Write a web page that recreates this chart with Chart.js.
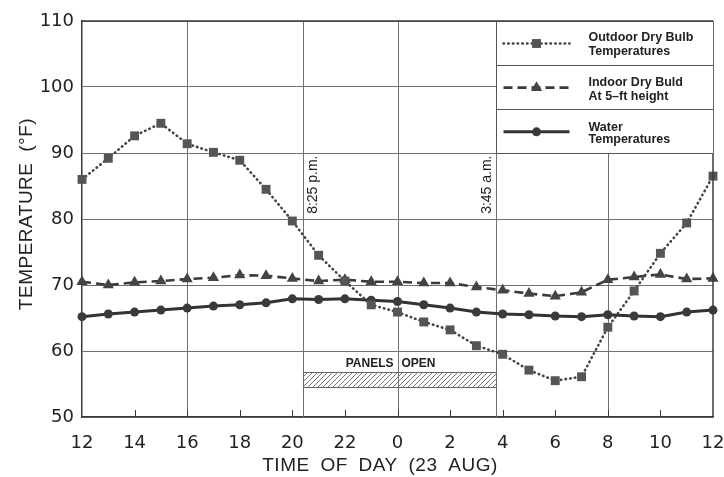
<!DOCTYPE html>
<html>
<head>
<meta charset="utf-8">
<script src="https://cdn.jsdelivr.net/npm/chart.js@4.4.1/dist/chart.umd.min.js"></script>
<style>
  html, body { margin: 0; padding: 0; background: #fff; }
</style>
</head>
<body>
<canvas id="tempChart" width="724" height="477"></canvas>
<script>
// --- data: hours after noon on 23 Aug, one reading per hour ---
const hourOffsets = [0, 1, 2, 3, 4, 5, 6, 7, 8, 9, 10, 11, 12, 13, 14, 15, 16, 17, 18, 19, 20, 21, 22, 23, 24];
const tickLabels = ['12', '14', '16', '18', '20', '22', '0', '2', '4', '6', '8', '10', '12'];
const seriesNames = [
  ['Outdoor Dry Bulb', 'Temperatures'],
  ['Indoor Dry Buld', 'At 5\u2013ft height'],
  ['Water', 'Temperatures']
];
const outdoorTemps = [86, 89.2, 92.6, 94.5, 91.4, 90.1, 88.9, 84.5, 79.7, 74.5, 70.6, 67, 65.9, 64.4, 63.2, 60.8, 59.5, 57.1, 55.5, 56.1, 63.6, 69.1, 74.8, 79.4, 86.5];
const indoorTemps = [70.5, 70, 70.4, 70.6, 70.9, 71.1, 71.5, 71.4, 71, 70.6, 70.8, 70.5, 70.5, 70.3, 70.3, 69.7, 69.2, 68.7, 68.3, 68.9, 70.8, 71.2, 71.6, 70.9, 71];
const waterTemps = [65.2, 65.6, 65.9, 66.2, 66.5, 66.8, 67, 67.3, 67.9, 67.8, 67.9, 67.7, 67.5, 67, 66.5, 65.9, 65.6, 65.5, 65.3, 65.2, 65.5, 65.3, 65.2, 65.9, 66.2];
// vertical rules: 16:00, 8:25 p.m., midnight, 3:45 a.m., 8:00
const gridHours = [4, 8.417, 12, 15.75, 20];
const ruleNotes = [[8.417, '8:25 p.m.'], [15.75, '3:45 a.m.']];
const panelsOpen = [8.417, 15.75];
const panelBand = [54.5, 56.8];
// legend panel spans from the 3:45 rule to the right edge, 90 to 110 F
const legendHours = [15.75, 24];
const legendTemps = [90, 110];

const ink = '#3a3a3a';
const gridInk = '#707070';

function pts(vals) {
  return vals.map((v, i) => ({ x: hourOffsets[i], y: v }));
}

function hatchPattern(ctx) {
  const c = document.createElement('canvas');
  c.width = 5; c.height = 5;
  const g = c.getContext('2d');
  g.strokeStyle = '#777';
  g.lineWidth = 1;
  g.beginPath();
  g.moveTo(0, 5); g.lineTo(5, 0);
  g.moveTo(-1, 1); g.lineTo(1, -1);
  g.moveTo(4, 6); g.lineTo(6, 4);
  g.stroke();
  return ctx.createPattern(c, 'repeat');
}

function marker(ctx, style, r, px, py) {
  ctx.beginPath();
  if (style === 'rect') {
    const s = r * Math.SQRT1_2;
    ctx.rect(px - s, py - s, 2 * s, 2 * s);
  } else if (style === 'triangle') {
    ctx.moveTo(px, py - r);
    ctx.lineTo(px + r * 0.866, py + r * 0.5);
    ctx.lineTo(px - r * 0.866, py + r * 0.5);
    ctx.closePath();
  } else {
    ctx.arc(px, py, r, 0, Math.PI * 2);
  }
  ctx.fill();
}

const overlay = {
  id: 'overlay',
  beforeDatasetsDraw(chart) {
    const { ctx, chartArea: a, scales: { x, y } } = chart;
    ctx.save();
    ctx.strokeStyle = gridInk;
    ctx.lineWidth = 1;
    gridHours.forEach(h => {
      const px = Math.round(x.getPixelForValue(h)) + 0.5;
      ctx.beginPath(); ctx.moveTo(px, a.top); ctx.lineTo(px, a.bottom); ctx.stroke();
    });
    // small inward ticks on the time axis
    ctx.strokeStyle = ink;
    for (let h = 2; h < 24; h += 2) {
      const px = Math.round(x.getPixelForValue(h)) + 0.5;
      ctx.beginPath(); ctx.moveTo(px, a.bottom); ctx.lineTo(px, a.bottom - 7); ctx.stroke();
    }
    // panels open band
    const bx0 = x.getPixelForValue(panelsOpen[0]), bx1 = x.getPixelForValue(panelsOpen[1]);
    const by0 = y.getPixelForValue(panelBand[1]), by1 = y.getPixelForValue(panelBand[0]);
    ctx.fillStyle = hatchPattern(ctx);
    ctx.fillRect(bx0, by0, bx1 - bx0, by1 - by0);
    ctx.strokeStyle = '#666';
    ctx.strokeRect(Math.round(bx0) + 0.5, Math.round(by0) + 0.5, Math.round(bx1 - bx0), Math.round(by1 - by0));
    ctx.fillStyle = '#222';
    ctx.font = 'bold 12px "Liberation Sans"';
    ctx.textBaseline = 'alphabetic';
    const mid = x.getPixelForValue(12);
    ctx.textAlign = 'right';
    ctx.fillText('PANELS', mid - 4, by0 - 5);
    ctx.textAlign = 'left';
    ctx.fillText('OPEN', mid + 4, by0 - 5);
    // rule notes
    ctx.font = '14px "Liberation Sans"';
    ctx.textAlign = 'center';
    ctx.textBaseline = 'middle';
    ruleNotes.forEach(([h, txt], i) => {
      const px = x.getPixelForValue(h) + (i === 0 ? 10 : -9);
      const py = y.getPixelForValue(85.2);
      ctx.save();
      ctx.translate(px, py);
      ctx.rotate(-Math.PI / 2);
      ctx.fillText(txt, 0, 0);
      ctx.restore();
    });
    ctx.restore();
  },
  afterDraw(chart) {
    const { ctx, chartArea: a, scales: { x, y } } = chart;
    ctx.save();
    // right frame
    ctx.strokeStyle = ink;
    ctx.lineWidth = 1.5;
    ctx.beginPath(); ctx.moveTo(a.right, a.top); ctx.lineTo(a.right, a.bottom); ctx.stroke();
    ctx.beginPath(); ctx.moveTo(a.left, a.top); ctx.lineTo(a.right, a.top); ctx.stroke();

    // legend panel
    const lx0 = Math.round(x.getPixelForValue(legendHours[0])) + 0.5;
    const lx1 = x.getPixelForValue(legendHours[1]);
    const ly0 = y.getPixelForValue(legendTemps[1]);
    const ly1 = Math.round(y.getPixelForValue(legendTemps[0])) + 0.5;
    ctx.fillStyle = '#fff';
    ctx.fillRect(lx0, ly0 + 1, lx1 - lx0, ly1 - ly0 - 1);
    ctx.strokeStyle = '#555';
    ctx.lineWidth = 1;
    const rowH = (ly1 - ly0) / 3;
    ctx.beginPath();
    ctx.moveTo(lx0, ly0); ctx.lineTo(lx0, ly1); ctx.lineTo(lx1, ly1);
    for (let r = 1; r < 3; r++) {
      const ry = Math.round(ly0 + r * rowH) + 0.5;
      ctx.moveTo(lx0, ry); ctx.lineTo(lx1, ry);
    }
    ctx.stroke();
    chart.data.datasets.forEach((ds, i) => {
      const top = ly0 + i * rowH;
      const sy = top + 22.5;
      ctx.strokeStyle = ds.borderColor;
      ctx.lineWidth = ds.borderWidth;
      ctx.lineCap = ds.borderCapStyle || 'butt';
      ctx.setLineDash(ds.borderDash || []);
      ctx.beginPath(); ctx.moveTo(lx0 + 7, sy); ctx.lineTo(lx0 + 73, sy); ctx.stroke();
      ctx.setLineDash([]);
      ctx.fillStyle = ds.pointBackgroundColor;
      marker(ctx, ds.pointStyle, ds.pointRadius, lx0 + 40, sy);
      ctx.fillStyle = '#222';
      ctx.font = 'bold 12.5px "Liberation Sans"';
      ctx.textAlign = 'left';
      ctx.textBaseline = 'middle';
      const names = seriesNames[i];
      ctx.fillText(names[0], lx0 + 92, top + (i === 2 ? 18 : 17));
      ctx.fillText(names[1], lx0 + 92, top + (i === 2 ? 30.5 : 31));
    });

    // axis titles
    ctx.fillStyle = '#222';
    ctx.font = '19px "Liberation Sans"';
    ctx.textAlign = 'center';
    ctx.textBaseline = 'middle';
    ctx.letterSpacing = '0.5px';
    ctx.wordSpacing = '5px';
    ctx.fillText('TIME OF DAY (23 AUG)', 380, 466);
    ctx.save();
    ctx.translate(27, 214);
    ctx.rotate(-Math.PI / 2);
    ctx.fillText('TEMPERATURE (\u00B0F)', 0, 0);
    ctx.restore();
    ctx.restore();
  }
};

const ctx = document.getElementById('tempChart').getContext('2d');
new Chart(ctx, {
  type: 'line',
  data: {
    datasets: [{
      label: 'Outdoor Dry Bulb Temperatures',
      data: pts(outdoorTemps),
      borderColor: '#444',
      borderWidth: 2.6,
      borderDash: [0.5, 4.2],
      borderCapStyle: 'round',
      pointStyle: 'rect',
      pointRadius: 6.3,
      pointBackgroundColor: '#555',
      pointBorderColor: '#555',
      pointBorderWidth: 0,
      clip: false
    }, {
      label: 'Indoor Dry Buld At 5-ft height',
      data: pts(indoorTemps),
      borderColor: '#3a3a3a',
      borderWidth: 2.6,
      borderDash: [9, 5],
      pointStyle: 'triangle',
      pointRadius: 6.5,
      pointBackgroundColor: '#444',
      pointBorderColor: '#444',
      pointBorderWidth: 0,
      clip: false
    }, {
      label: 'Water Temperatures',
      data: pts(waterTemps),
      borderColor: '#333',
      borderWidth: 3,
      pointStyle: 'circle',
      pointRadius: 4.5,
      pointBackgroundColor: '#3a3a3a',
      pointBorderColor: '#3a3a3a',
      pointBorderWidth: 0,
      clip: false
    }]
  },
  options: {
    responsive: false,
    animation: false,
    devicePixelRatio: 1,
    events: [],
    layout: { padding: { top: 21, right: 11, left: 0, bottom: 0 } },
    plugins: {
      legend: { display: false },
      tooltip: { enabled: false }
    },
    scales: {
      x: {
        type: 'linear',
        min: 0,
        max: 24,
        afterFit: s => { s.height = 60; s.paddingLeft = 0; s.paddingRight = 0; },
        ticks: {
          stepSize: 2,
          padding: 8,
          color: '#222',
          font: { family: 'DejaVu Sans', size: 18 },
          callback: (v, i) => tickLabels[i]
        },
        grid: { display: false },
        border: { display: true, color: ink, width: 1.5 }
      },
      y: {
        min: 50,
        max: 110,
        afterFit: s => { s.width = 82; },
        ticks: {
          stepSize: 10,
          padding: 8,
          color: '#222',
          font: { family: 'DejaVu Sans', size: 18 }
        },
        grid: { color: gridInk, lineWidth: 1, drawTicks: false },
        border: { display: true, color: ink, width: 1.5 }
      }
    }
  },
  plugins: [overlay]
});
</script>
</body>
</html>
